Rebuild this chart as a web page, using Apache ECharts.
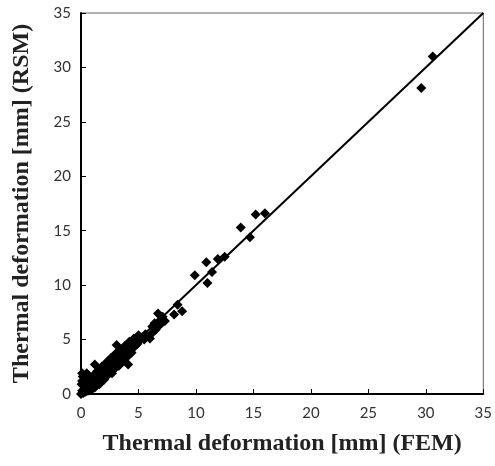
<!DOCTYPE html>
<html>
<head>
<meta charset="utf-8">
<script src="https://cdn.jsdelivr.net/npm/echarts@6/dist/echarts.min.js"></script>
<style>html,body{margin:0;padding:0;background:#fff;}#c{width:495px;height:466px;}</style>
</head>
<body>
<div id="c"></div>
<script>
var xTicks = [0, 5, 10, 15, 20, 25, 30, 35];
var yTicks = [0, 5, 10, 15, 20, 25, 30, 35];
var xTitle = 'Thermal deformation [mm] (FEM)';
var yTitle = 'Thermal deformation [mm] (RSM)';
// FEM value, RSM value
var fem = [0.1,0.2,0.1,0.3,0.4,0.5,0.6,0.7,0.8,0.9,1.0,1.1,1.2,1.3,1.4,0.2,0.3,0.6,1.5,1.6,1.7,1.2,1.8,1.9,2.0,2.1,2.2,2.3,2.4,2.5,2.6,2.7,2.8,2.9,3.0,3.1,3.1,3.2,3.3,3.4,3.5,3.6,3.7,3.8,3.9,4.0,4.1,4.2,4.3,4.4,4.5,4.6,4.7,4.8,4.9,5.0,5.1,5.3,5.5,5.6,6.0,6.2,6.2,6.4,6.5,6.7,6.8,6.9,7.1,7.0,7.3,8.1,8.4,8.8,9.9,10.9,11.0,11.4,11.9,12.5,13.9,14.7,15.2,16.0,29.6,30.6,0.05,0.15,0.4,0.5,0.1,0.0,0.3,0.8,1.0,1.5,2.0,2.5,3.0,3.5,4.0,0.7,1.3,1.0,1.4,1.8,2.2,2.6,3.0,3.4,3.8,4.2,4.6,5.0,1.6,2.0,2.4,2.8,3.2,3.6,4.0,4.4,0.9,1.1,2.3,2.7,3.3,3.7];
var rsm = [0.3,0.8,1.2,1.5,0.2,0.6,1.0,1.6,0.5,1.1,0.8,1.4,0.6,1.0,1.7,0.1,0.5,0.3,1.2,0.9,1.5,2.7,2.0,1.6,1.3,2.2,1.8,2.5,2.0,2.8,2.3,1.9,2.6,3.1,2.5,4.5,2.9,3.4,2.8,3.6,3.1,3.8,3.3,3.5,4.1,3.7,2.7,4.3,3.9,4.6,4.2,4.8,4.4,5.0,4.6,5.4,4.9,5.2,5.0,5.5,5.1,5.6,6.2,6.5,5.9,7.4,6.3,6.8,7.1,6.5,6.7,7.3,8.2,7.6,10.9,12.1,10.2,11.2,12.4,12.6,15.3,14.4,16.5,16.6,28.1,31.0,0.9,1.6,1.3,1.9,1.9,0.0,0.9,1.2,1.3,1.8,2.4,2.9,3.3,3.9,4.3,1.2,1.9,1.6,2.1,2.5,2.9,3.3,3.7,4.1,4.4,4.8,5.1,5.3,1.1,1.5,1.9,2.2,2.6,3.0,3.4,3.8,0.4,0.6,1.7,2.1,2.6,3.0];
var fitLine = [[0, 0], [35, 35]];

var pts = fem.map(function (v, i) { return [v, rsm[i]]; });
var chart = echarts.init(document.getElementById('c'), null, {renderer: 'canvas'});
var labelFont = {fontFamily: 'Lato', fontSize: 15, color: '#333'};
var titleFont = {fontFamily: 'Liberation Serif', fontWeight: 'bold', fontSize: 24, color: '#222'};
chart.setOption({
  animation: false,
  backgroundColor: '#fff',
  grid: {left: 81, right: 9, top: 13, bottom: 72, show: true, borderColor: '#666', borderWidth: 1},
  xAxis: {
    type: 'value', min: 0, max: 35, interval: 5,
    name: xTitle, nameLocation: 'middle', nameGap: 38, nameTextStyle: titleFont,
    axisLine: {show: true, lineStyle: {color: '#000', width: 2}},
    axisTick: {show: true, inside: true, length: 5, lineStyle: {color: '#000'}},
    axisLabel: Object.assign({margin: 12, formatter: function (v) { return xTicks.indexOf(v) >= 0 ? String(v) : ''; }}, labelFont),
    splitLine: {show: false}
  },
  yAxis: {
    type: 'value', min: 0, max: 35, interval: 5,
    name: yTitle, nameLocation: 'middle', nameGap: 47, nameTextStyle: titleFont,
    axisLine: {show: true, lineStyle: {color: '#000', width: 2}},
    axisTick: {show: true, inside: true, length: 5, lineStyle: {color: '#000'}},
    axisLabel: Object.assign({margin: 10, formatter: function (v) { return yTicks.indexOf(v) >= 0 ? String(v) : ''; }}, labelFont),
    splitLine: {show: false}
  },
  series: [
    {type: 'line', data: fitLine, symbol: 'none', lineStyle: {color: '#000', width: 2}, z: 3},
    {type: 'scatter', data: pts, symbol: 'diamond', symbolSize: [10, 10], itemStyle: {color: '#000', opacity: 1}, z: 4}
  ]
});
</script>
</body>
</html>
